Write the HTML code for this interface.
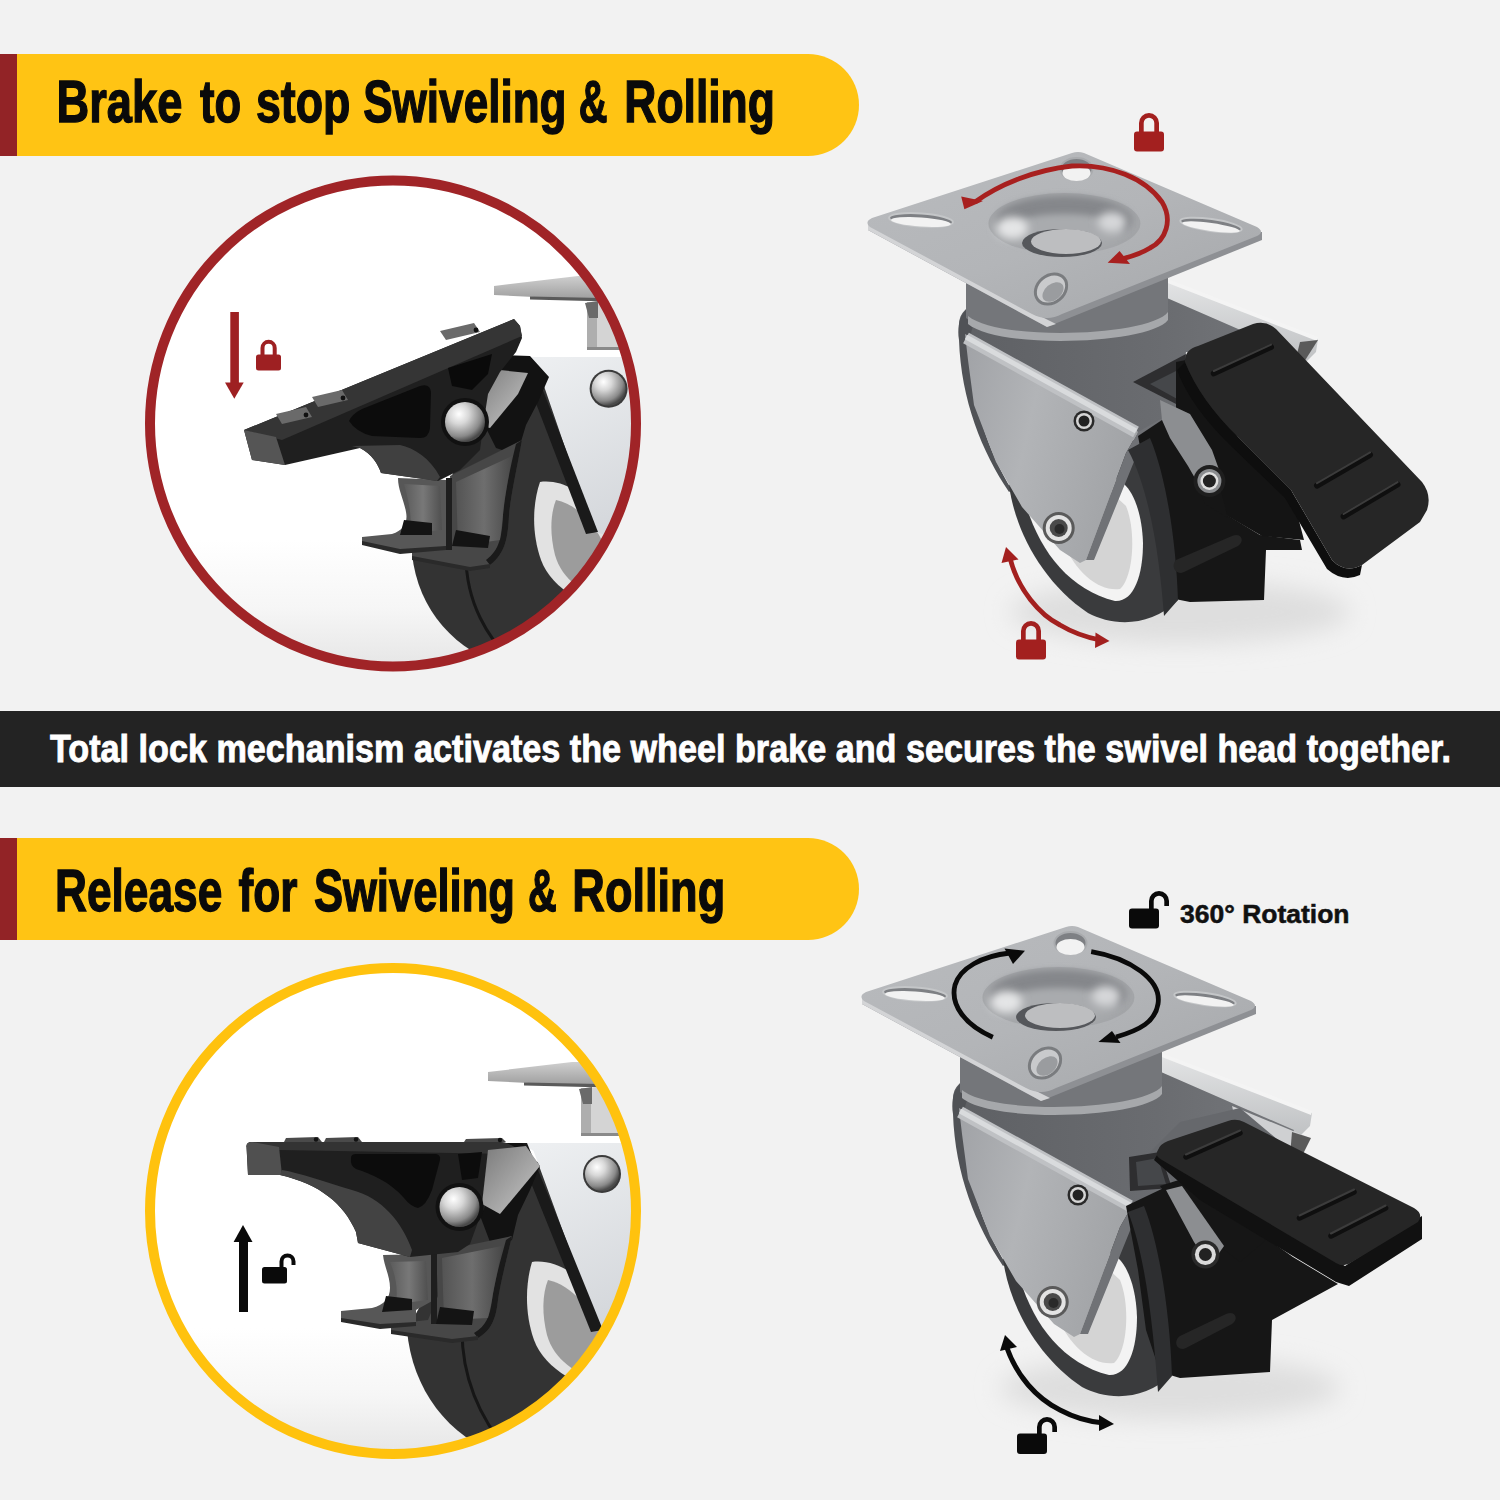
<!DOCTYPE html>
<html><head><meta charset="utf-8">
<style>
html,body{margin:0;padding:0;background:#F2F2F2;}
body{width:1500px;height:1500px;overflow:hidden;position:relative;}
svg{position:absolute;left:0;top:0;display:block;}
</style></head>
<body>
<svg width="1500" height="1500" viewBox="0 0 1500 1500">
<defs>
  <clipPath id="c1"><circle cx="393" cy="423.5" r="244"/></clipPath>
  <clipPath id="c2"><circle cx="393" cy="1211" r="244"/></clipPath>
  <linearGradient id="circbg" x1="0" y1="0" x2="0" y2="1">
    <stop offset="0" stop-color="#FFFFFF"/>
    <stop offset="0.74" stop-color="#FFFFFF"/>
    <stop offset="0.88" stop-color="#F6F6F6"/>
    <stop offset="1" stop-color="#E6E6E6"/>
  </linearGradient>
  <filter id="blur2" x="-50%" y="-50%" width="200%" height="200%"><feGaussianBlur stdDeviation="3"/></filter>
  <filter id="blur3" x="-50%" y="-50%" width="200%" height="200%"><feGaussianBlur stdDeviation="4"/></filter>
  <filter id="blur8" x="-50%" y="-50%" width="200%" height="200%"><feGaussianBlur stdDeviation="12"/></filter>
</defs>
<rect x="0" y="0" width="1500" height="1500" fill="#F2F2F2"/>

<!-- Banner 1 -->
<rect x="0" y="54" width="17" height="102" fill="#922326"/>
<path d="M17 54 H808 A51 51 0 0 1 808 156 H17 Z" fill="#FFC414"/>
<text x="56.5" y="122" font-family="Liberation Sans" font-weight="bold" font-size="60" textLength="125.8" lengthAdjust="spacingAndGlyphs" fill="#0A0A0A" stroke="#0A0A0A" stroke-width="1.4">Brake</text>
<text x="200.0" y="122" font-family="Liberation Sans" font-weight="bold" font-size="60" textLength="41.2" lengthAdjust="spacingAndGlyphs" fill="#0A0A0A" stroke="#0A0A0A" stroke-width="1.4">to</text>
<text x="255.9" y="122" font-family="Liberation Sans" font-weight="bold" font-size="60" textLength="94.5" lengthAdjust="spacingAndGlyphs" fill="#0A0A0A" stroke="#0A0A0A" stroke-width="1.4">stop</text>
<text x="363.2" y="122" font-family="Liberation Sans" font-weight="bold" font-size="60" textLength="203.3" lengthAdjust="spacingAndGlyphs" fill="#0A0A0A" stroke="#0A0A0A" stroke-width="1.4">Swiveling</text>
<text x="578.7" y="122" font-family="Liberation Sans" font-weight="bold" font-size="60" textLength="28.8" lengthAdjust="spacingAndGlyphs" fill="#0A0A0A" stroke="#0A0A0A" stroke-width="1.4">&amp;</text>
<text x="624.3" y="122" font-family="Liberation Sans" font-weight="bold" font-size="60" textLength="150.6" lengthAdjust="spacingAndGlyphs" fill="#0A0A0A" stroke="#0A0A0A" stroke-width="1.4">Rolling</text>

<!-- Circle 1 -->
<defs>
  <linearGradient id="gForkPl" x1="0" y1="0" x2="0.3" y2="1">
    <stop offset="0" stop-color="#EEF0F2"/>
    <stop offset="1" stop-color="#D5D8DC"/>
  </linearGradient>
  <linearGradient id="gTopPc" x1="0" y1="0" x2="0" y2="1">
    <stop offset="0" stop-color="#CFCFCF"/>
    <stop offset="1" stop-color="#9C9C9C"/>
  </linearGradient>
  <radialGradient id="gBall" cx="0.35" cy="0.3" r="0.7">
    <stop offset="0" stop-color="#FFFFFF"/>
    <stop offset="0.35" stop-color="#D8D8D8"/>
    <stop offset="0.8" stop-color="#8A8A8A"/>
    <stop offset="1" stop-color="#4A4A4A"/>
  </radialGradient>
  <linearGradient id="gMetal" x1="0" y1="0" x2="1" y2="0">
    <stop offset="0" stop-color="#5E5E5E"/>
    <stop offset="0.5" stop-color="#8E8E8E"/>
    <stop offset="1" stop-color="#4A4A4A"/>
  </linearGradient>
  <linearGradient id="gArmMetal" x1="0" y1="0" x2="1" y2="1">
    <stop offset="0" stop-color="#7A7A7A"/>
    <stop offset="1" stop-color="#C9C9C9"/>
  </linearGradient>
  <g id="wheelR">
    <!-- top plate piece -->
    <path d="M494 286 L578 276 L650 276 L650 300 L596 300 L494 295 Z" fill="url(#gTopPc)"/>
    <path d="M530 296.5 L650 299 L650 302.5 L530 299.5 Z" fill="#5A5A5A"/>
    <!-- stem -->
    <rect x="587" y="302" width="60" height="48" fill="#D4D4D4"/>
    <rect x="587" y="302" width="10" height="48" fill="#AEAEAE"/>
    <path d="M585 303 L598 301 L598 318 L589 318 Z" fill="#6A6A6A"/>
    <rect x="587" y="347" width="60" height="3" fill="#8A8A8A"/>
  </g>
</defs>
<circle cx="393" cy="423.5" r="243" fill="url(#circbg)"/>
<g clip-path="url(#c1)" id="c1content">
  <use href="#wheelR"/>
  <!-- wheel base (tires) -->
  <path d="M412 554 C418 610 455 652 510 668 L650 668 L650 420 L548 372 L470 440 Z" fill="#333333"/>
  <path d="M466 556 C466 600 486 640 520 668" fill="none" stroke="#161616" stroke-width="3"/>
  <!-- hub -->
  <path d="M540 482 C570 478 600 505 615 535 L622 612 C590 610 552 590 541 560 C532 535 532 505 540 482 Z" fill="#E2E2E2"/>
  <path d="M556 500 C580 505 600 530 608 555 L608 600 C585 595 562 580 555 555 C550 535 550 515 556 500 Z" fill="#9C9C9C"/>
  <!-- fork plate -->
  <path d="M524 357 L650 357 L650 545 L594 532 L536.6 364.4 Z" fill="url(#gForkPl)"/>
  <path d="M520 357 L530 357 L598 532 L586 534 L524 372 Z" fill="#1A1A1A"/>
  <!-- ball right -->
  <circle cx="608.6" cy="388.7" r="19" fill="#3A3A3A"/>
  <circle cx="608.6" cy="388.7" r="17" fill="url(#gBall)"/>
  <!-- black arm -->
  <path d="M496 355 L530 356 L549 377 L538 402 L526 425 L520 445 L508 452 L496 448 L482 420 L476 380 Z" fill="#121212"/>
  <path d="M490 369 L528 373 L518 394 L490 428 L477 424 L480 392 Z" fill="url(#gArmMetal)"/>
  <!-- brake band -->
  <path d="M450 476 L522 440 C517 468 511 494 509 515 C508 536 506 553 490 565 L470 569 L412 558 L412 550 L446 547 L452 510 Z" fill="#474747"/>
  <path d="M522 440 C517 468 511 494 509 515 C508 536 506 553 490 565 L486 560 C500 550 502 535 503 515 C505 494 510 468 516 444 Z" fill="#1A1A1A"/>
  <path d="M456 482 L512 456 C508 480 504 500 503 515 L500 540 L458 546 Z" fill="url(#gMetal)" opacity="0.55"/>
  <path d="M398 478 L446 480 L448 546 L412 552 L400 553 L362 543 L362 537 L392 534 C404 530 408 522 406 512 C404 500 398 490 398 478 Z" fill="#575757"/>
  <path d="M404 484 L440 486 L442 530 L410 533 C412 520 410 505 404 484 Z" fill="url(#gMetal)" opacity="0.6"/>
  <path d="M446 478 L452 478 L452 550 L446 550 Z" fill="#1E1E1E"/>
  <path d="M404 520 L432 523 L432 535 L400 535 Z" fill="#141414"/>
  <path d="M456 530 L490 536 L488 548 L452 546 Z" fill="#141414"/>
  <path d="M362 541 L400 549 L446 546 L446 550 L400 554 L362 545 Z" fill="#2A2A2A"/>
  <path d="M412 556 L470 567 L490 564 L490 568 L470 571 L412 560 Z" fill="#2A2A2A"/>
  <!-- pedal body -->
  <path d="M244 430 L514 319 L520 326 L522 338 L516 352 L500 372 L488 394 L484 420 L480 450 L460 470 L438 481 L381 473 C378 464 372 454 360 448 L285 465 L252 460 Z" fill="#1F1F1F"/>
  <path d="M244 430 L514 319 L520 326 L522 336 L282 440 Z" fill="#353535"/>
  <path d="M244 430 L276 437 L285 465 L252 460 Z" fill="#555555"/>
  <path d="M360 448 C372 454 378 464 381 473 L437 481 L440 477 C430 458 414 448 400 445 L352 446 Z" fill="#404040"/>
  <!-- recesses -->
  <path d="M349 421 Q352 414 362 409 L420 386 Q430 383 431 392 L430 428 Q429 438 420 438 L372 436 Q356 432 349 421 Z" fill="#0C0C0C"/>
  <path d="M448 368 L492 354 L488 374 L472 390 L452 386 Z" fill="#0A0A0A"/>
  <!-- ridges -->
  <path d="M276 414 L306 407 L312 417 L282 424 Z" fill="#6A6A6A"/>
  <path d="M312 397 L342 390 L348 400 L318 407 Z" fill="#6A6A6A"/>
  <path d="M440 331 L474 323 L480 332 L446 340 Z" fill="#6A6A6A"/>
  <circle cx="306" cy="415" r="2.4" fill="#111"/>
  <circle cx="343" cy="398" r="2.4" fill="#111"/>
  <circle cx="476" cy="330" r="2.4" fill="#111"/>
  <!-- ball left -->
  <circle cx="465" cy="422" r="24" fill="#111111"/>
  <circle cx="465" cy="422" r="20" fill="url(#gBall)"/>
</g>
<circle cx="393" cy="423.5" r="243" fill="none" stroke="#A02427" stroke-width="10"/>
<!-- circle 1 arrow and lock -->
<g fill="#9E2022">
  <rect x="230.3" y="312" width="8.6" height="72"/>
  <path d="M225 382.5 H243.7 L234.3 398.7 Z"/>
  <rect x="256" y="354.6" width="25" height="16" rx="2.5"/>
  <path d="M260.5 355 V347.9 A8.1 8.1 0 0 1 276.7 347.9 V355 H272.7 V347.9 A4.1 4.1 0 0 0 264.5 347.9 V355 Z"/>
</g>

<!-- Dark bar -->
<rect x="0" y="711" width="1500" height="76" fill="#232323"/>
<text x="50" y="762" font-family="Liberation Sans" font-weight="bold" font-size="38.5" textLength="1401" lengthAdjust="spacingAndGlyphs" fill="#FFFFFF" stroke="#FFFFFF" stroke-width="0.9">Total lock mechanism activates the wheel brake and secures the swivel head together.</text>

<!-- Banner 2 -->
<rect x="0" y="838" width="17" height="102" fill="#922326"/>
<path d="M17 838 H808 A51 51 0 0 1 808 940 H17 Z" fill="#FFC414"/>
<text x="55.0" y="911" font-family="Liberation Sans" font-weight="bold" font-size="60" textLength="167.3" lengthAdjust="spacingAndGlyphs" fill="#0A0A0A" stroke="#0A0A0A" stroke-width="1.4">Release</text>
<text x="238.5" y="911" font-family="Liberation Sans" font-weight="bold" font-size="60" textLength="59.0" lengthAdjust="spacingAndGlyphs" fill="#0A0A0A" stroke="#0A0A0A" stroke-width="1.4">for</text>
<text x="313.9" y="911" font-family="Liberation Sans" font-weight="bold" font-size="60" textLength="201.0" lengthAdjust="spacingAndGlyphs" fill="#0A0A0A" stroke="#0A0A0A" stroke-width="1.4">Swiveling</text>
<text x="528.0" y="911" font-family="Liberation Sans" font-weight="bold" font-size="60" textLength="28.8" lengthAdjust="spacingAndGlyphs" fill="#0A0A0A" stroke="#0A0A0A" stroke-width="1.4">&amp;</text>
<text x="572.3" y="911" font-family="Liberation Sans" font-weight="bold" font-size="60" textLength="152.9" lengthAdjust="spacingAndGlyphs" fill="#0A0A0A" stroke="#0A0A0A" stroke-width="1.4">Rolling</text>

<!-- Circle 2 -->
<circle cx="393" cy="1211" r="243" fill="url(#circbg)"/>
<g clip-path="url(#c2)" id="c2content">
  <use href="#wheelR" transform="translate(-6,786)"/>
  <!-- wheel base (tires) -->
  <path d="M407 1330 C412 1390 450 1440 505 1456 L650 1456 L650 1200 L540 1160 L470 1215 Z" fill="#333333"/>
  <path d="M462 1330 C462 1380 480 1420 512 1456" fill="none" stroke="#161616" stroke-width="3"/>
  <!-- hub -->
  <path d="M532 1262 C562 1258 592 1285 608 1315 L615 1392 C583 1390 545 1370 534 1340 C525 1315 525 1285 532 1262 Z" fill="#E2E2E2"/>
  <path d="M548 1280 C572 1285 592 1310 600 1335 L600 1380 C577 1375 554 1360 547 1335 C542 1315 542 1295 548 1280 Z" fill="#9C9C9C"/>
  <!-- fork plate -->
  <path d="M521 1143 L650 1143 L650 1335 L599 1330 L533.6 1151 Z" fill="url(#gForkPl)"/>
  <path d="M517 1143 L527 1143 L603 1330 L591 1332 L521 1158 Z" fill="#1A1A1A"/>
  <!-- ball right -->
  <circle cx="602" cy="1174" r="19" fill="#3A3A3A"/>
  <circle cx="602" cy="1174" r="17" fill="url(#gBall)"/>
  <!-- black arm -->
  <path d="M484 1143 L522 1143 L540 1166 L530 1190 L518 1215 L512 1240 L498 1246 L490 1242 L476 1205 L472 1165 Z" fill="#121212"/>
  <!-- brake band -->
  <path d="M436 1252 L512 1236 C506 1262 500 1285 498 1300 C496 1318 492 1330 478 1338 L452 1341 L391 1332 L391 1324 L428 1320 L438 1296 Z" fill="#474747"/>
  <path d="M512 1236 C506 1262 500 1285 498 1300 C496 1318 492 1330 478 1338 L474 1333 C486 1326 490 1316 492 1300 C494 1284 500 1262 506 1240 Z" fill="#1A1A1A"/>
  <path d="M442 1258 L502 1246 C498 1270 494 1288 492 1300 L488 1318 L444 1320 Z" fill="url(#gMetal)" opacity="0.55"/>
  <path d="M383 1255 L431 1254 L434 1300 L416 1310 L416 1324 L380 1326 L341 1320 L341 1311 L372 1308 C384 1305 390 1298 390 1288 C390 1276 384 1266 383 1255 Z" fill="#575757"/>
  <path d="M390 1262 L426 1261 L428 1300 L396 1304 C398 1290 396 1276 390 1262 Z" fill="url(#gMetal)" opacity="0.6"/>
  <path d="M431 1254 L437 1254 L437 1324 L431 1324 Z" fill="#1E1E1E"/>
  <path d="M386 1296 L412 1299 L412 1310 L382 1312 Z" fill="#141414"/>
  <path d="M440 1307 L474 1311 L472 1325 L436 1324 Z" fill="#141414"/>
  <path d="M341 1318 L380 1324 L416 1322 L416 1326 L380 1329 L341 1322 Z" fill="#2A2A2A"/>
  <path d="M391 1330 L452 1339 L478 1336 L478 1340 L452 1343 L391 1334 Z" fill="#2A2A2A"/>
  <!-- pedal body -->
  <path d="M246.5 1147 Q246.5 1142 252 1142 L500 1142 Q512 1143 520 1152 L506 1172 L490 1196 L478 1222 L470 1244 L458 1252 L410 1257 L358 1243 L356 1232 C344 1204 320 1184 280 1175 L248 1175 Z" fill="#1F1F1F"/>
  <path d="M246.5 1147 Q246.5 1142 252 1142 L500 1142 Q512 1143 520 1152 L516 1154 L279 1150 Z" fill="#333333"/>
  <path d="M246.5 1145 Q247 1142 252 1142 L279 1147 L282 1175 L248 1175 Z" fill="#505050"/>
  <path d="M280 1175 C320 1184 344 1204 356 1232 L358 1243 L410 1257 L412 1250 C402 1222 382 1198 352 1190 C322 1181 300 1173 282 1170 Z" fill="#434343"/>
  <!-- recesses -->
  <path d="M351 1158 Q351 1154 356 1154 L436 1154 Q441 1155 440 1160 L432 1190 Q426 1206 418 1208 Q410 1206 404 1198 C390 1182 372 1174 356 1169 Q350 1166 351 1158 Z" fill="#0C0C0C"/>
  <path d="M458 1154 L482 1152 L478 1178 L462 1180 Z" fill="#0C0C0C"/>
  <path d="M488 1150 L526 1146 L540 1166 L500 1214 L482 1204 Z" fill="url(#gArmMetal)"/>
  <!-- ridges -->
  <path d="M284 1142 L286 1138 L318 1137 L322 1142 Z" fill="#4A4A4A"/>
  <path d="M324 1142 L326 1138 L358 1137 L362 1142 Z" fill="#4A4A4A"/>
  <path d="M464 1142 L466 1139 L502 1138 L506 1142 Z" fill="#4A4A4A"/>
  <circle cx="316" cy="1139.5" r="2.2" fill="#111"/>
  <circle cx="356" cy="1139.5" r="2.2" fill="#111"/>
  <circle cx="500" cy="1140" r="2.2" fill="#111"/>
  <!-- knob ball -->
  <circle cx="459.5" cy="1207" r="24" fill="#111111"/>
  <circle cx="459.5" cy="1207" r="20" fill="url(#gBall)"/>
</g>
<circle cx="393" cy="1211" r="243" fill="none" stroke="#FFC20E" stroke-width="10"/>
<!-- circle 2 arrow and lock -->
<g fill="#0A0A0A">
  <rect x="239" y="1240" width="9" height="72"/>
  <path d="M233.6 1242 H252.5 L243 1225 Z"/>
  <rect x="262" y="1267" width="25" height="16.5" rx="2.5"/>
  <path d="M279.5 1268 V1261.5 A8 8 0 0 1 295.5 1261.5 V1265 H291.5 V1261.5 A4 4 0 0 0 283.5 1261.5 V1268 Z"/>
</g>
<!-- Top right caster -->
<defs>
  <linearGradient id="gFace" x1="0" y1="0" x2="1" y2="0.3">
    <stop offset="0" stop-color="#A0A2A6"/>
    <stop offset="0.45" stop-color="#B2B4B7"/>
    <stop offset="1" stop-color="#A2A4A7"/>
  </linearGradient>
  <linearGradient id="gTop" x1="0" y1="0" x2="1" y2="0">
    <stop offset="0" stop-color="#5E6064"/>
    <stop offset="0.6" stop-color="#6A6C70"/>
    <stop offset="1" stop-color="#75777B"/>
  </linearGradient>
  <linearGradient id="gPlate" x1="0" y1="0" x2="1" y2="1">
    <stop offset="0" stop-color="#B9BBBE"/>
    <stop offset="0.5" stop-color="#B3B5B8"/>
    <stop offset="1" stop-color="#A5A7AA"/>
  </linearGradient>
  <radialGradient id="gBowl" cx="0.5" cy="0.35" r="0.6">
    <stop offset="0" stop-color="#7D7F82"/>
    <stop offset="0.55" stop-color="#9A9CA0"/>
    <stop offset="0.85" stop-color="#C8CACC"/>
    <stop offset="1" stop-color="#B5B7BA"/>
  </radialGradient>
  <linearGradient id="gBack" x1="0" y1="0" x2="0" y2="1">
    <stop offset="0" stop-color="#E4E5E6"/>
    <stop offset="1" stop-color="#BFC1C3"/>
  </linearGradient>
  <g id="cbody">
    <!-- back fork plate (light, right side) -->
    <path d="M1160 278 L1318 339 L1316 352 L1306 362 L1167 300 Z" fill="url(#gBack)"/>
    <path d="M1160 276 L1318 337 L1317 341 L1160 280 Z" fill="#F4F4F4"/>
    <!-- fork top dark -->
    <path d="M961 336 C955 318 962 306 985 300 L1167 298 L1300 356 L1290 380 L1186 352 L1180 408 L1140 440 L1136 428 Z" fill="url(#gTop)"/>
    <!-- fork left rounded side -->
    <path d="M959 340 C956 318 964 304 988 299 L992 304 C978 312 970 325 970 345 C971 400 988 452 1012 490 L1009 492 C982 452 961 400 959 340 Z" fill="#505256"/>
    <!-- wheel tire -->
    <path d="M1009 485 C1015 530 1042 582 1088 613 C1112 626 1150 628 1178 600 L1185 470 L1140 438 Z" fill="#3A3B3D"/>
    <path d="M1026 505 C1040 552 1070 590 1115 601 C1134 602 1143 575 1143 543 C1142 512 1133 492 1124 484 L1090 460 Z" fill="#F3F3F3"/>
    <path d="M1062 540 C1076 574 1100 592 1120 589 C1134 576 1136 530 1126 506 L1100 482 Z" fill="#D4D4D4"/>
    <!-- fork face -->
    <path d="M965 334 L1138 432 L1126 453 L1086 560 L1080 563 L1060 550 L1022 507 L996 462 L974 405 L968 360 Z" fill="url(#gFace)"/>
    <path d="M966 338 L1136 432" fill="none" stroke="#BFC1C4" stroke-width="12"/>
    <path d="M966 337 L1136 431" fill="none" stroke="#D9DBDD" stroke-width="5"/>
    <path d="M1138 432 L1180 408 L1142 442 L1094 560 L1086 560 L1126 453 Z" fill="#707276"/>
    <!-- rivets -->
    <circle cx="1084" cy="421" r="10.5" fill="#2A2A2A"/>
    <circle cx="1084" cy="421" r="8" fill="#D5D5D5"/>
    <circle cx="1084" cy="421" r="5.5" fill="#222"/>
    <circle cx="1058.7" cy="528" r="16" fill="#5A5A5A"/>
    <circle cx="1058.7" cy="528" r="13" fill="#E3E3E3"/>
    <circle cx="1058.7" cy="528" r="9" fill="#4A4A4A"/>
    <circle cx="1059.5" cy="529" r="5" fill="#2A2A2A"/>
    <!-- swivel housing -->
    <path d="M966 272 L966 318 C1000 346 1150 342 1168 316 L1168 272 Z" fill="#74767A"/>
    <path d="M968 316 C1000 342 1150 336 1168 312 L1168 320 C1150 344 1000 350 968 324 Z" fill="#A6A8AB"/>
    <!-- plate -->
    <path d="M868 222 L868 230 L1047 327 L1262 240 L1262 232 Z" fill="#8E9094"/>
    <path d="M868 222 L868 230 L1047 327 L1056 324 L1040 316 Z" fill="#D3D4D6"/>
    <path d="M872 218 L1072 153 Q1078 151 1084 153 L1257 227 Q1265 232 1257 236 L1062 314 Q1047 322 1032 314 L870 227 Q864 222 872 218 Z" fill="url(#gPlate)"/>
    <!-- slots -->
    <ellipse cx="1076.5" cy="169" rx="16" ry="11" fill="#7E8084" stroke="#A9ABAE" stroke-width="2"/>
    <ellipse cx="1076.5" cy="173" rx="14" ry="8" fill="#F2F2F2"/>
    <ellipse cx="921" cy="220" rx="32" ry="6.5" fill="#7E8084" stroke="#C4C6C8" stroke-width="2" transform="rotate(4 921 220)"/>
    <ellipse cx="921" cy="222" rx="30" ry="4.5" fill="#F2F2F2" transform="rotate(4 921 222)"/>
    <ellipse cx="1211" cy="225" rx="31" ry="6" fill="#7E8084" stroke="#C4C6C8" stroke-width="2" transform="rotate(8 1211 225)"/>
    <ellipse cx="1211" cy="227" rx="29" ry="4" fill="#F2F2F2" transform="rotate(8 1211 227)"/>
    <ellipse cx="1051" cy="289" rx="17" ry="13.5" fill="#C9CACC" stroke="#7A7C7F" stroke-width="3" transform="rotate(-40 1051 289)"/>
    <ellipse cx="1053" cy="292" rx="12" ry="8" fill="#9A9C9F" transform="rotate(-40 1053 292)"/>
    <!-- bowl -->
    <ellipse cx="1064.4" cy="223.6" rx="76" ry="30.5" fill="#A3A5A8"/>
    <ellipse cx="1064.4" cy="220" rx="68" ry="24" fill="#85878B" filter="url(#blur2)"/>
    <ellipse cx="1064.4" cy="232" rx="60" ry="18" fill="#A9ABAE" filter="url(#blur2)"/>
    <ellipse cx="1012" cy="228" rx="16" ry="11" fill="#E4E5E6" filter="url(#blur3)"/>
    <ellipse cx="1112" cy="222" rx="14" ry="10" fill="#D6D7D9" filter="url(#blur3)"/>
    <ellipse cx="1062" cy="243" rx="40" ry="14" fill="#55575B"/>
    <ellipse cx="1066" cy="241.5" rx="35" ry="12.5" fill="#BDBEC0"/>
  </g>
</defs>
<g id="caster1">
 <ellipse cx="1180" cy="612" rx="170" ry="32" fill="#DEDEDE" filter="url(#blur8)"/>
 <use href="#cbody"/>
 <path d="M1300 342 L1318 340 L1304 362 L1296 358 Z" fill="#5A5A5A"/>
 <!-- black mechanism -->
 <path d="M1138 436 L1180 408 L1192 440 L1222 512 L1260 535 L1300 540 L1302 550 L1266 550 L1264 600 L1190 602 L1170 598 L1160 560 L1150 500 Z" fill="#161616"/>
 <path d="M1128 450 L1150 438 C1166 476 1176 540 1178 600 L1164 616 C1160 560 1150 490 1128 450 Z" fill="#2E2F31"/>
 <path d="M1176 560 L1232 536 C1240 532 1246 540 1238 546 L1184 572 C1176 576 1170 566 1176 560 Z" fill="#262626"/>
 <!-- pedal slot -->
 <path d="M1133 382 L1186 354 L1180 406 Z" fill="#2E2E30"/>
 <path d="M1150 384 L1182 368 L1179 400 Z" fill="#45474A"/>
 <!-- black bracket -->
 <path d="M1176 362 L1186 360 L1238 437 L1291 490 L1304 540 L1262 536 L1224 514 L1210 472 L1192 440 L1176 412 Z" fill="#141414"/>
 <path d="M1188 436 L1215 468 L1228 518 L1205 504 L1186 460 Z" fill="#161616"/>
 <!-- link arm -->
 <path d="M1160 400 L1190 414 L1212 450 L1222 478 L1204 494 L1188 466 L1170 438 L1162 420 Z" fill="#8C8E91"/>
 <circle cx="1209.4" cy="481" r="16" fill="#1E1E1E"/>
 <circle cx="1209.4" cy="481" r="12" fill="#8A8C8F"/>
 <circle cx="1209.4" cy="481" r="9" fill="#E0E0E0"/>
 <circle cx="1209.4" cy="481" r="6.5" fill="#222"/>
 <!-- pedal -->
 <path d="M1185 362 Q1200 400 1238 437 L1291 490 L1332 560 Q1345 574 1362 565 L1360 575 Q1343 583 1327 569 L1285 498 L1231 446 Q1190 406 1177 370 Z" fill="#0E0E0E"/>
 <path d="M1185 362 Q1184 350 1198 346 L1253 324 Q1266 320 1276 329 L1422 482 Q1432 495 1427 510 L1420 522 L1362 565 Q1345 574 1332 560 L1291 490 L1238 437 Q1200 400 1185 362 Z" fill="#262626"/>
 <path d="M1213.8 373.4 L1271 347 M1317 485.6 L1370 454.8 M1343.6 516.4 L1397.5 484.5" stroke="#0F0F0F" stroke-width="6" stroke-linecap="round"/>
 <path d="M1213.8 371 L1271 344.6 M1317 483.2 L1370 452.4 M1343.6 514 L1397.5 482.1" stroke="#3C3C3C" stroke-width="2" stroke-linecap="round"/>
 <!-- red rotation arrow -->
 <path d="M975 202 C1000 184 1035 170 1072 166 C1110 164 1145 178 1162 202 C1173 220 1166 240 1150 248 C1142 253 1133 256 1122 259" fill="none" stroke="#A8201F" stroke-width="4.8"/>
 <path d="M964.4 209.2 L961.2 196.5 L983 201 Z" fill="#A8201F"/>
 <path d="M1107.6 262.8 L1119.6 251 L1130 264 Z" fill="#A8201F"/>
 <!-- locks and wheel arrow -->
 <g fill="#A3201F">
  <rect x="1134" y="131.5" width="30" height="20" rx="3"/>
  <path d="M1139 132 V123 A10 10 0 0 1 1159 123 V132 H1154.3 V123 A5.3 5.3 0 0 0 1143.7 123 V132 Z"/>
  <rect x="1016" y="639.5" width="30" height="20" rx="3"/>
  <path d="M1021 640 V631 A10 10 0 0 1 1041 631 V640 H1036.3 V631 A5.3 5.3 0 0 0 1025.7 631 V640 Z"/>
  <path d="M1006 547 L1001.5 563 L1018.5 559.5 Z"/>
  <path d="M1109.5 641 L1095.5 632.5 L1095 648 Z"/>
 </g>
 <path d="M1010 558 C1018 590 1040 615 1060 625 C1075 634 1090 638 1100 640" fill="none" stroke="#A3201F" stroke-width="4.8"/>
</g>

<!-- Bottom right caster -->
<g id="caster2">
 <ellipse cx="1170" cy="1388" rx="170" ry="32" fill="#DEDEDE" filter="url(#blur8)"/>
 <use href="#cbody" transform="translate(-6,774)"/>
 <!-- silver back bracket -->
 <path d="M1232 1106 L1310 1138 L1296 1162 L1240 1140 Z" fill="#CFD0D2"/>
 <path d="M1292 1132 L1311 1138 L1300 1160 L1290 1156 Z" fill="#5A5A5A"/>
 <!-- black mechanism -->
 <path d="M1126 1206 L1170 1185 L1192 1215 L1222 1207 L1293 1257 L1338 1284 L1272 1320 L1270 1372 L1180 1378 L1160 1372 L1146 1330 L1138 1270 Z" fill="#161616"/>
 <path d="M1128 1212 L1144 1206 C1160 1246 1170 1316 1172 1376 L1158 1392 C1154 1336 1146 1256 1128 1212 Z" fill="#2E2F31"/>
 <path d="M1180 1336 L1226 1314 C1234 1310 1240 1318 1232 1324 L1186 1348 C1178 1352 1172 1342 1180 1336 Z" fill="#262626"/>
 <path d="M1150 1152 L1180 1122 L1240 1108 L1290 1150 L1240 1165 L1175 1185 Z" fill="#66686C"/>
 <!-- pedal slot -->
 <path d="M1129 1157 L1160 1152 L1172 1188 L1130 1191 Z" fill="#2E2E30"/>
 <path d="M1136 1162 L1158 1158 L1166 1184 L1138 1186 Z" fill="#45474A"/>
 <path d="M1160 1186 L1204 1172 L1290 1220 L1240 1262 L1180 1215 Z" fill="#161616"/>
 <!-- link arm -->
 <path d="M1166 1190 L1182 1186 L1224 1246 L1210 1266 L1194 1242 Z" fill="#8C8E91"/>
 <circle cx="1205.4" cy="1254.5" r="14" fill="#2A2A2A"/>
 <circle cx="1205.4" cy="1254.5" r="10.5" fill="#DADADA"/>
 <circle cx="1205.4" cy="1254.5" r="6.5" fill="#222"/>
 <!-- pedal -->
 <path d="M1154 1160 L1157 1155 L1345 1266 L1422 1216 L1422 1239 L1349 1286 L1336 1282 L1200 1200 Z" fill="#111111"/>
 <path d="M1158 1150 Q1160 1144 1168 1141 L1228 1121 Q1236 1118 1244 1122 L1414 1208 Q1424 1214 1418 1222 L1352 1262 Q1344 1268 1336 1263 L1162 1160 Q1154 1156 1158 1150 Z" fill="#262626"/>
 <path d="M1186 1157 L1240 1133 M1299.5 1218 L1354 1192 M1331 1236 L1385.6 1208" stroke="#0F0F0F" stroke-width="5.5" stroke-linecap="round"/>
 <path d="M1186 1154.5 L1240 1130.5 M1299.5 1215.5 L1354 1189.5 M1331 1233.5 L1385.6 1205.5" stroke="#3C3C3C" stroke-width="2" stroke-linecap="round"/>
 <!-- black rotation arrows -->
 <path d="M992.8 1037.2 C965 1025 950 1005 955 985 C960 968 982 956 1010 953" fill="none" stroke="#0A0A0A" stroke-width="4.8"/>
 <path d="M1025 950.8 L1004.5 948.5 L1013 964 Z" fill="#0A0A0A"/>
 <path d="M1091.2 951.6 C1130 958 1162 980 1158 1004 C1155 1022 1140 1030 1116 1037" fill="none" stroke="#0A0A0A" stroke-width="4.8"/>
 <path d="M1098.4 1042 L1112 1031 L1120.5 1043 Z" fill="#0A0A0A"/>
 <!-- unlock icons and wheel arrow -->
 <g fill="#0A0A0A">
  <rect x="1017" y="1433.5" width="30" height="20.5" rx="3"/>
  <path d="M1037 1434 V1427 A10 10 0 0 1 1057 1427 V1432 H1052.3 V1427 A5.3 5.3 0 0 0 1041.7 1427 V1434 Z"/>
  <rect x="1129" y="908.6" width="30" height="20" rx="3"/>
  <path d="M1149 909 V901 A10 10 0 0 1 1169 901 V906 H1164.3 V901 A5.3 5.3 0 0 0 1153.7 901 V909 Z"/>
  <path d="M1005 1335 L1000 1351 L1017 1347 Z"/>
  <path d="M1114 1424 L1099 1415 L1099 1431 Z"/>
 </g>
 <path d="M1007 1348 C1017 1376 1036 1398 1060 1410 C1075 1418 1090 1422 1104 1423" fill="none" stroke="#0A0A0A" stroke-width="5"/>
</g>

<!-- 360 rotation label -->
<text x="1180" y="923" font-family="Liberation Sans" font-weight="bold" font-size="25" textLength="169.5" lengthAdjust="spacingAndGlyphs" fill="#111" stroke="#111" stroke-width="0.5">360° Rotation</text>

</svg>
</body></html>
